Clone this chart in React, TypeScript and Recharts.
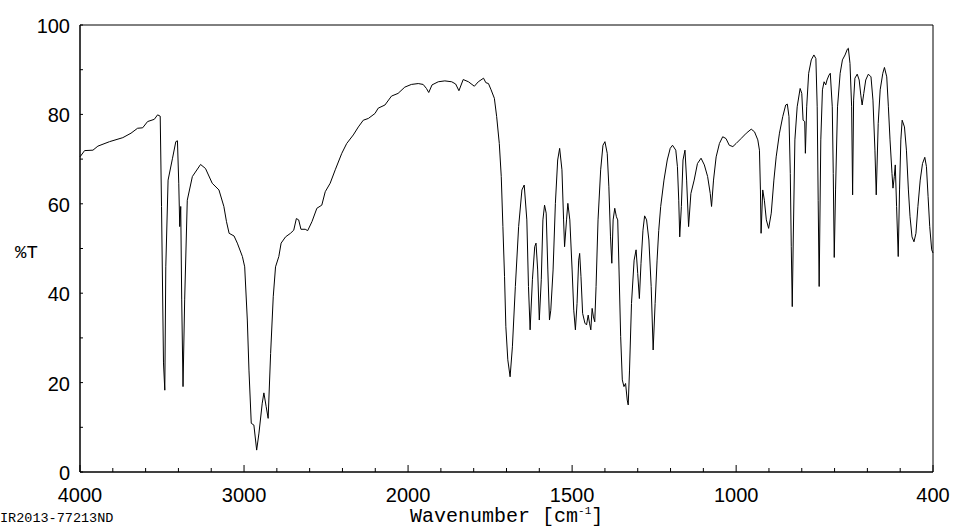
import React from 'react';
import { LineChart, Line, XAxis, YAxis, ReferenceArea, Label } from 'recharts';

// IR spectrum trace
const wavenumbers = [
  4000, 3972, 3921, 3891, 3820, 3739, 3689, 3649, 3618, 3588, 3547, 3527, 3511, 3503, 3491, 3483,
  3477, 3463, 3436, 3416, 3406, 3398, 3392, 3386, 3380, 3372, 3362, 3346, 3315, 3265, 3235, 3194,
  3153, 3123, 3107, 3091, 3061, 3041, 3010, 2996, 2980, 2970, 2956, 2940, 2923, 2909, 2889, 2879,
  2865, 2853, 2838, 2822, 2808, 2788, 2774, 2747, 2717, 2697, 2681, 2667, 2653, 2627, 2612, 2586,
  2556, 2526, 2505, 2475, 2444, 2404, 2374, 2334, 2303, 2273, 2242, 2202, 2182, 2141, 2101, 2061,
  2020, 1990, 1969, 1954, 1944, 1937, 1927, 1908, 1888, 1867, 1855, 1845, 1832, 1816, 1798, 1786,
  1770, 1763, 1755, 1747, 1737, 1730, 1722, 1716, 1711, 1706, 1702, 1696, 1689, 1682, 1673, 1663,
  1653, 1646, 1638, 1633, 1628, 1621, 1614, 1610, 1605, 1600, 1594, 1589, 1584, 1579, 1574, 1569,
  1565, 1558, 1551, 1544, 1538, 1531, 1526, 1523, 1517, 1513, 1507, 1500, 1495, 1490, 1485, 1480,
  1477, 1473, 1468, 1461, 1456, 1451, 1447, 1443, 1439, 1435, 1431, 1427, 1421, 1413, 1406, 1400,
  1393, 1388, 1383, 1379, 1375, 1370, 1365, 1361, 1357, 1352, 1347, 1342, 1337, 1332, 1329, 1325,
  1319, 1311, 1305, 1300, 1295, 1290, 1284, 1279, 1273, 1266, 1259, 1253, 1247, 1241, 1236, 1230,
  1220, 1210, 1201, 1194, 1184, 1179, 1175, 1172, 1167, 1162, 1156, 1151, 1145, 1138, 1128, 1118,
  1107, 1097, 1087, 1079, 1075, 1069, 1061, 1051, 1041, 1031, 1021, 1010, 1000, 985, 969, 954,
  944, 934, 929, 926, 924, 919, 914, 908, 901, 893, 885, 878, 868, 858, 849, 844,
  839, 835, 832, 829, 826, 821, 814, 805, 800, 796, 791, 789, 785, 779, 771, 763,
  757, 753, 750, 747, 742, 737, 732, 727, 723, 717, 713, 707, 704, 701, 697, 691,
  683, 676, 668, 661, 658, 653, 648, 645, 642, 638, 631, 625, 620, 616, 611, 605,
  597, 589, 583, 577, 573, 567, 561, 553, 548, 541, 536, 531, 525, 522, 518, 515,
  511, 506, 502, 498, 494, 487, 481, 475, 470, 464, 458, 452, 446, 439, 432, 425,
  420, 415, 410, 404, 400,
];

const transmittance = [
  70.5, 71.9, 72.0, 72.9, 73.9, 74.8, 75.8, 76.9, 77.0, 78.4, 78.9, 79.9, 79.6, 59.4, 24.4, 18.3,
  45.9, 65.3, 70.2, 73.9, 74.1, 64.6, 54.9, 59.4, 38.5, 19.1, 38.5, 60.8, 66.1, 68.8, 67.9, 64.6,
  63.1, 59.4, 56.0, 53.4, 52.8, 51.2, 48.2, 45.9, 34.0, 22.8, 10.9, 10.5, 4.9, 8.7, 15.4, 17.7,
  14.6, 12.0, 26.5, 39.2, 45.9, 48.2, 51.2, 52.6, 53.4, 54.1, 56.7, 56.4, 54.3, 54.3, 54.0, 56.0,
  59.0, 59.7, 62.7, 64.6, 67.6, 71.3, 73.5, 75.4, 77.2, 78.7, 79.1, 80.2, 81.4, 82.1, 84.1, 84.7,
  86.1, 86.7, 86.9, 86.7, 85.8, 84.9, 86.6, 87.3, 87.5, 87.3, 86.8, 85.3, 87.8, 87.3, 86.3, 87.3,
  88.1, 87.1, 86.9, 85.5, 83.6, 79.5, 73.5, 66.1, 54.9, 43.7, 32.5, 25.1, 21.3, 28.0, 41.5, 54.9,
  63.1, 64.2, 56.4, 41.5, 31.8, 43.0, 50.4, 51.2, 45.2, 34.0, 43.0, 56.4, 59.7, 57.9, 45.2, 34.0,
  36.2, 45.2, 60.1, 69.8, 72.4, 67.6, 56.4, 50.4, 56.4, 60.1, 56.4, 45.2, 36.2, 31.8, 37.7, 47.4,
  48.9, 43.7, 35.5, 33.3, 32.9, 35.1, 33.3, 31.8, 36.6, 34.7, 33.6, 41.5, 56.4, 67.6, 73.1, 73.9,
  71.3, 63.8, 52.6, 46.7, 56.4, 59.0, 57.1, 56.4, 45.2, 30.3, 20.6, 19.1, 19.8, 16.1, 15.0, 22.8,
  37.7, 47.4, 49.7, 44.4, 38.8, 46.7, 54.1, 57.3, 56.4, 51.9, 41.5, 27.3, 37.7, 47.4, 54.0, 59.4,
  65.3, 69.8, 72.4, 73.1, 72.0, 68.3, 60.8, 52.6, 59.4, 69.8, 72.0, 65.3, 54.9, 62.3, 65.3, 69.0,
  70.2, 68.7, 66.1, 62.3, 59.4, 65.3, 70.5, 73.5, 75.0, 74.6, 73.1, 72.8, 73.5, 74.6, 75.8, 76.7,
  76.1, 74.3, 72.0, 63.1, 53.4, 63.1, 60.8, 56.4, 54.5, 57.9, 65.3, 70.5, 75.8, 79.5, 82.1, 82.3,
  79.5, 66.8, 50.4, 37.0, 51.9, 74.3, 81.7, 85.8, 84.7, 78.7, 78.4, 71.3, 81.7, 89.2, 92.2, 93.3,
  92.5, 81.7, 60.8, 41.5, 74.3, 85.5, 87.3, 86.6, 87.7, 88.8, 89.2, 81.7, 66.8, 48.0, 63.1, 81.7,
  89.2, 92.2, 93.3, 94.6, 94.8, 91.4, 81.7, 62.0, 83.2, 88.1, 89.0, 87.7, 84.3, 82.1, 84.7, 87.7,
  89.0, 88.4, 83.2, 72.0, 62.0, 78.0, 85.5, 89.2, 90.5, 88.4, 81.7, 74.3, 66.8, 63.5, 66.1, 68.7,
  59.4, 48.2, 63.1, 74.3, 78.7, 77.2, 72.0, 63.1, 57.1, 52.6, 51.5, 53.4, 59.4, 65.3, 69.0, 70.4,
  68.3, 61.6, 54.9, 49.7, 49.0,
];

const xLabelValues = [4000, 3000, 2000, 1500, 1000, 400];
const yTicks = [0, 10, 20, 30, 40, 50, 60, 70, 80, 90, 100];
const yLabelValues = [0, 20, 40, 60, 80, 100];
const sampleId = 'IR2013-77213ND';

// the scale is doubled below 2000 cm-1, so plot against a stretched axis
const toAxis = (w: number) => (w >= 2000 ? 4000 - w : 2000 + 2 * (2000 - w));
const fromAxis = (u: number) => (u <= 2000 ? 4000 - u : 2000 - (u - 2000) / 2);

const data = wavenumbers.map((w, i) => ({ u: toAxis(w), t: transmittance[i] }));

const xTicks: number[] = [];
for (let u = 0; u <= 5200; u += 200) xTicks.push(u);

const sans = '"Liberation Sans", Arial, sans-serif';
const mono = '"Liberation Mono", "Courier New", monospace';

const XTick = (props: any) => {
  const { x, y, payload } = props;
  const w = Math.round(fromAxis(payload.value));
  const major = xLabelValues.includes(w);
  return (
    <g>
      <line x1={x} y1={y} x2={x} y2={y - (major ? 7 : 4)} stroke="#000" strokeWidth={1} />
      {major && (
        <text x={x} y={y + 30} textAnchor="middle" fontSize={20} fontFamily={sans} fill="#000">
          {w}
        </text>
      )}
    </g>
  );
};

const YTick = (props: any) => {
  const { x, y, payload } = props;
  const v = payload.value;
  return (
    <g>
      <line x1={x} y1={y} x2={x + 3} y2={y} stroke="#000" strokeWidth={1} />
      {yLabelValues.includes(v) && (
        <text x={x - 10} y={y + 8} textAnchor="end" fontSize={20} fontFamily={sans} fill="#000">
          {v}
        </text>
      )}
    </g>
  );
};

const App: React.FC = () => {
  return (
    <div style={{ position: 'absolute', left: 0, top: 0, width: 959, height: 528, background: '#fff' }}>
      <LineChart width={959} height={528} data={data} margin={{ top: 25, right: 26, left: 0, bottom: 0 }}>
        <XAxis
          type="number"
          dataKey="u"
          domain={[0, 5200]}
          ticks={xTicks}
          interval={0}
          height={56}
          tickSize={0}
          tickMargin={0}
          tick={XTick}
          axisLine={{ stroke: '#000' }}
        >
          <Label
            content={() => (
              <text x={410} y={522} fontSize={20} fontFamily={mono} fill="#000">
                Wavenumber [cm
                <tspan fontSize={11} dy={-8}>-1</tspan>
                <tspan dy={8}>]</tspan>
              </text>
            )}
          />
        </XAxis>
        <YAxis
          type="number"
          domain={[0, 100]}
          ticks={yTicks}
          interval={0}
          width={80}
          tickSize={0}
          tickMargin={0}
          tick={YTick}
          axisLine={{ stroke: '#000' }}
        >
          <Label
            content={() => (
              <g>
                <text x={15} y={258} fontSize={19} fontFamily={mono} fill="#000">
                  %T
                </text>
                <text x={0} y={522} fontSize={13.5} fontFamily={mono} fill="#000">
                  {sampleId}
                </text>
              </g>
            )}
          />
        </YAxis>
        <ReferenceArea x1={0} x2={5200} y1={0} y2={100} stroke="#000" strokeWidth={1} fill="none" ifOverflow="visible" />
        <Line
          type="linear"
          dataKey="t"
          stroke="#000"
          strokeWidth={1}
          dot={false}
          activeDot={false}
          isAnimationActive={false}
        />
      </LineChart>
    </div>
  );
};

export default App;
